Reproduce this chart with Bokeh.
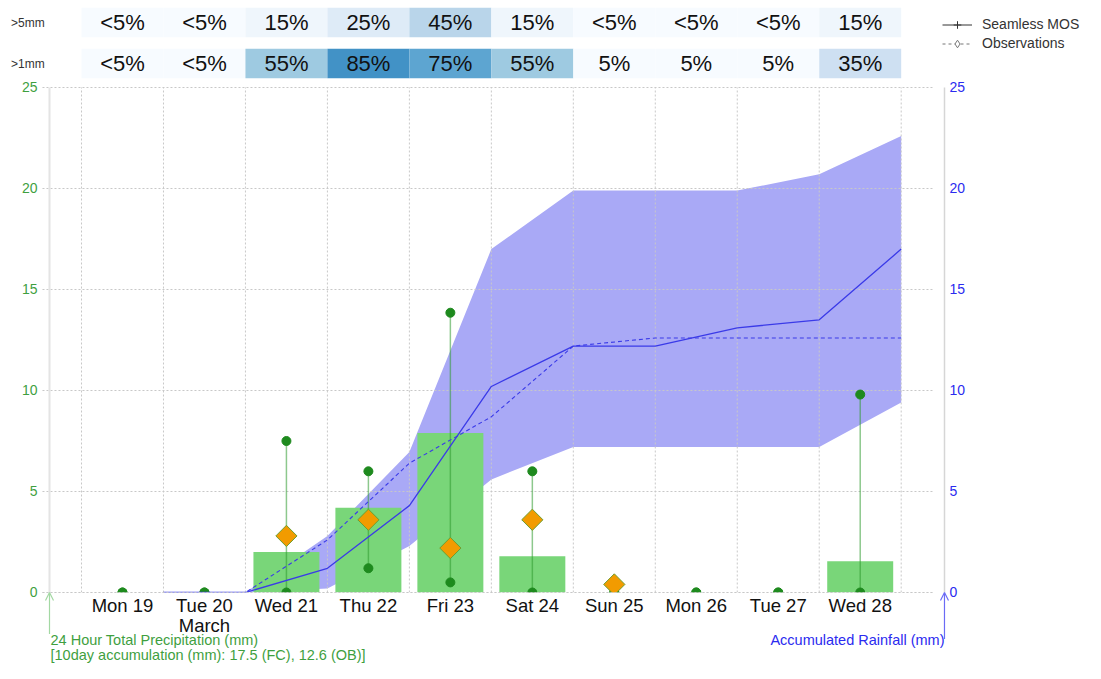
import numpy as np
from bokeh.plotting import figure
from bokeh.models import (Range1d, LinearAxis, FixedTicker, Label, Arrow,
                          OpenHead, Legend, LegendItem, ColumnDataSource)
from bokeh.embed import file_html
from bokeh.resources import INLINE
from bokeh.core.properties import value

FONT = "Liberation Sans"
nan = float("nan")

# ---------------- data ----------------
days = ["Mon 19", "Tue 20", "Wed 21", "Thu 22", "Fri 23", "Sat 24",
        "Sun 25", "Mon 26", "Tue 27", "Wed 28"]
month_label = "March"
precip_fc = [0, 0, 2.0, 4.2, 7.9, 1.8, 0, 0, 0, 1.55]
precip_hi = [0, 0, 7.5, 6.0, 13.85, 6.0, 0, 0, 0, 9.8]
precip_lo = [0, 0, 0, 1.2, 0.5, 0, 0, 0, 0, 0]
precip_obs = [nan, nan, 2.8, 3.6, 2.2, 3.6, 0.4, nan, nan, nan]

acc_fc = [0, 0, 1.2, 4.3, 10.2, 12.2, 12.2, 13.1, 13.5, 17.0]
acc_obs = [0, 0, 2.6, 6.4, 8.7, 12.2, 12.6, 12.6, 12.6, 12.6]
acc_lo = [0, 0, 0.2, 2.3, 5.6, 7.2, 7.2, 7.2, 7.2, 9.4]
acc_hi = [0, 0, 2.8, 6.95, 17.0, 19.9, 19.9, 19.9, 20.7, 22.6]

prob_rows = [">1mm", ">5mm"]
prob_5mm = ["<5%", "<5%", "15%", "25%", "45%", "15%", "<5%", "<5%", "<5%", "15%"]
prob_1mm = ["<5%", "<5%", "55%", "85%", "75%", "55%", "5%", "5%", "5%", "35%"]

y_ticks = [0, 5, 10, 15, 20, 25]
precip_title = "24 Hour Total Precipitation (mm)"
accum_note = "[10day accumulation (mm): 17.5 (FC), 12.6 (OB)]"
accum_title = "Accumulated Rainfall (mm)"
legend_labels = ["Seamless MOS", "Observations"]

# ---------------- layout constants (data units of the scales) ----------------
n = len(days)
centers = np.arange(n) + 0.5
bounds = np.arange(1, n + 1)
X0, X1 = -0.98817, 12.2484        # whole canvas in day units
Y0, Y1 = -3.5149, 29.3069         # whole canvas in mm units
AX_L, AX_R = -0.3904, 10.528      # left guide line / right axis
GRID_L, GRID_R = -0.476, 10.394   # extent of horizontal grid lines
ROW_LBL_X = -0.86

BLUES = ["#f7fbff", "#deebf7", "#c6dbef", "#9ecae1", "#6baed6", "#4292c6",
         "#2171b5", "#08519c", "#08306b"]


def pct_color(lbl):
    p = 0.0 if lbl.startswith("<") else float(lbl.strip("%"))
    idx = max(0.0, (p - 10.0) / 15.0)
    i0 = int(np.floor(idx))
    i1 = min(i0 + 1, len(BLUES) - 1)
    f = idx - i0
    c0 = np.array([int(BLUES[i0][k:k + 2], 16) for k in (1, 3, 5)])
    c1 = np.array([int(BLUES[i1][k:k + 2], 16) for k in (1, 3, 5)])
    c = np.round(c0 + (c1 - c0) * f).astype(int)
    return "#%02x%02x%02x" % tuple(c)


GREEN_TXT = "#3f9f3f"
BLUE_TXT = "#2b2bef"
GRID_C = "#c8c8c8"

p = figure(width=1085, height=663, x_range=Range1d(X0, X1),
           y_range=Range1d(Y0, Y1), output_backend="svg",
           toolbar_location=None, min_border=0,
           x_axis_location=None, y_axis_location=None)
p.outline_line_color = None
p.grid.visible = False
p.extra_y_ranges = {"acc": Range1d(Y0, Y1),
                    "tbl": Range1d(-14.634, 1.5366)}

# ---------------- probability table ----------------
tx, ty, tl, tc = [], [], [], []
for r, labels in enumerate([prob_1mm, prob_5mm]):
    for i, lbl in enumerate(labels):
        tx.append(centers[i])
        ty.append(r)
        tl.append(lbl)
        tc.append(pct_color(lbl))
tsrc = ColumnDataSource(dict(x=tx, y=ty, label=tl, color=tc))
p.rect(x="x", y="y", width=1.0, height=0.72, source=tsrc, fill_color="color",
       line_color=None, y_range_name="tbl")
p.text(x="x", y="y", text="label", source=tsrc, text_align="center",
       text_baseline="middle", text_font=value(FONT), text_font_size="22px",
       text_color="#111111", y_range_name="tbl")
p.text(x=[ROW_LBL_X, ROW_LBL_X], y=[0, 1], text=prob_rows, text_align="left",
       text_baseline="middle", text_font=value(FONT), text_font_size="12px",
       text_color="#333333", y_range_name="tbl")

# ---------------- main chart ----------------
# accumulated uncertainty band
p.varea(x=bounds, y1=acc_lo, y2=acc_hi, y_range_name="acc",
        fill_color="#a9a9f6")

# grid lines (dotted) limited to the chart area
grid_x = list(range(0, n + 1))
p.segment(x0=grid_x, y0=[y_ticks[0]] * len(grid_x), x1=grid_x,
          y1=[y_ticks[-1]] * len(grid_x), line_color=GRID_C, line_dash="2 2",
          line_width=1)
p.segment(x0=[GRID_L] * len(y_ticks), y0=y_ticks, x1=[GRID_R] * len(y_ticks),
          y1=y_ticks, line_color=GRID_C, line_dash="2 2", line_width=1)

# daily bars
p.vbar(x=centers, top=precip_fc, width=0.805, bottom=0,
       fill_color="#79d679", line_color=None)

# whiskers
p.segment(x0=centers, y0=precip_lo, x1=centers, y1=precip_hi,
          line_color="#2f9a2f", line_alpha=0.55, line_width=1.5)
p.scatter(x=centers, y=precip_hi, size=9, marker="circle",
          fill_color="#1e8a1e", line_color="#1e8a1e")
p.scatter(x=centers, y=precip_lo, size=9, marker="circle",
          fill_color="#1e8a1e", line_color="#1e8a1e")

# accumulated lines
p.line(x=bounds, y=acc_fc, y_range_name="acc", line_color="#3a3ae8",
       line_width=1.3)
p.line(x=bounds, y=acc_obs, y_range_name="acc", line_color="#3a3ae8",
       line_width=1.1, line_dash="4 3")

# observations (diamonds)
p.scatter(x=centers, y=precip_obs, marker="square", angle=np.pi / 4, size=15,
          fill_color="#f29b00", line_color="#6e9e30", line_width=1)

# mask below the zero line (the chart area is clipped at 0)
p.quad(left=[GRID_L], right=[AX_R + 0.2], top=[0], bottom=[Y0],
       fill_color="white", line_color=None)
p.segment(x0=[GRID_L], y0=[0], x1=[GRID_R], y1=[0], line_color=GRID_C,
          line_dash="2 2", line_width=1)

# ---------------- axes ----------------
def style_axis(ax, color, size, standoff):
    ax.major_tick_line_color = None
    ax.minor_tick_line_color = None
    ax.major_tick_out = 0
    ax.major_tick_in = 0
    ax.minor_tick_out = 0
    ax.minor_tick_in = 0
    ax.major_label_text_color = color
    ax.major_label_text_font = FONT
    ax.major_label_text_font_size = size
    ax.major_label_standoff = standoff


la = LinearAxis(fixed_location=AX_L, ticker=FixedTicker(ticks=y_ticks),
                bounds=(y_ticks[0], y_ticks[-1]))
style_axis(la, GREEN_TXT, "14px", 12)
la.axis_line_color = "#e4e4e4"
la.axis_line_width = 2
p.add_layout(la, "left")

ra = LinearAxis(fixed_location=AX_R, y_range_name="acc",
                ticker=FixedTicker(ticks=y_ticks),
                bounds=(y_ticks[0], y_ticks[-1]))
style_axis(ra, BLUE_TXT, "14px", 5)
ra.axis_line_color = "#d6d6d6"
ra.axis_line_width = 1.5
p.add_layout(ra, "right")

xa = LinearAxis(fixed_location=0, ticker=FixedTicker(ticks=list(centers)))
style_axis(xa, "#111111", "18.5px", 3)
xa.major_label_overrides = {float(c): d for c, d in zip(centers, days)}
xa.axis_line_color = None
p.add_layout(xa, "below")

p.add_layout(Label(x=centers[1], y=-1.634, text=month_label, text_align="center",
                   text_baseline="middle", text_font=FONT,
                   text_font_size="18.5px", text_color="#111111"))

# arrows + axis titles
p.add_layout(Arrow(x_start=AX_L, y_start=-2.05, x_end=AX_L, y_end=0,
                   line_color="#a3d8a3", line_width=1.2,
                   end=OpenHead(size=8, line_color="#a3d8a3", line_width=1.2)))
p.add_layout(Arrow(x_start=AX_R, y_start=-2.3, x_end=AX_R, y_end=0,
                   line_color="#6b6bf5", line_width=1.2,
                   end=OpenHead(size=8, line_color="#6b6bf5", line_width=1.2)))
p.add_layout(Label(x=-0.378, y=-2.327, text=precip_title,
                   text_align="left", text_baseline="middle", text_font=FONT,
                   text_font_size="14.5px", text_color=GREEN_TXT))
p.add_layout(Label(x=-0.378, y=-3.07, text=accum_note,
                   text_align="left", text_baseline="middle", text_font=FONT,
                   text_font_size="14.5px", text_color=GREEN_TXT))
p.add_layout(Label(x=AX_R, y=-2.327, text=accum_title,
                   text_align="right", text_baseline="middle", text_font=FONT,
                   text_font_size="14.5px", text_color=BLUE_TXT))

# ---------------- legend ----------------
l1 = p.line([nan], [nan], line_color="#333333", line_width=1)
s1 = p.scatter([nan], [nan], marker="cross", size=11, line_color="#333333")
l2 = p.line([nan], [nan], line_color="#777777", line_width=1, line_dash="3 3")
s2 = p.scatter([nan], [nan], marker="diamond", size=10, fill_color="white",
               line_color="#777777")
legend = Legend(items=[LegendItem(label=legend_labels[0], renderers=[l1, s1]),
                       LegendItem(label=legend_labels[1], renderers=[l2, s2])],
                location=(942, 610.5), padding=0, margin=0, spacing=0,
                glyph_width=30, glyph_height=19, label_height=19,
                label_standoff=10, border_line_color=None,
                background_fill_alpha=0, label_text_font=FONT,
                label_text_font_size="14px", label_text_color="#333333")
p.add_layout(legend)

open("out.html", "w").write(file_html(p, INLINE))
